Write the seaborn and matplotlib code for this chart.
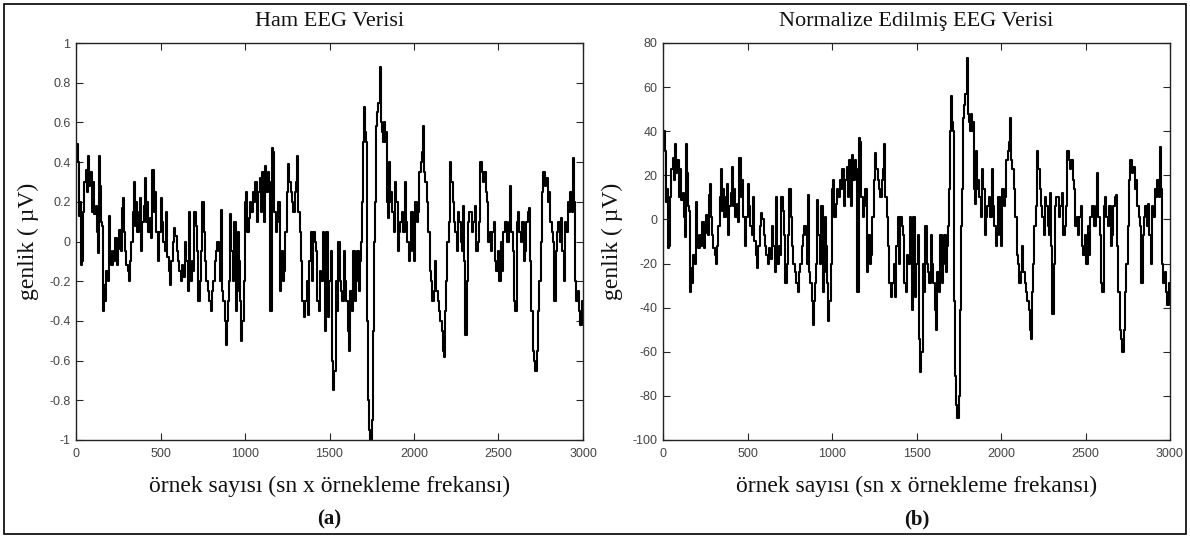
import matplotlib
matplotlib.use("Agg")
import matplotlib.pyplot as plt
import seaborn as sns
import pandas as pd
from matplotlib.patches import Rectangle

# ---- data ----
sample = [
    0, 8, 14, 20, 26, 32, 38, 44, 50, 58, 64, 70, 76, 84, 92, 100, 108, 116, 122, 128,
    134, 140, 148, 156, 162, 168, 174, 180, 188, 194, 200, 208, 216, 224, 232, 240, 248, 256, 264, 272,
    278, 284, 290, 298, 306, 312, 320, 328, 336, 344, 350, 356, 362, 370, 378, 384, 392, 400, 408, 414,
    420, 428, 436, 444, 452, 460, 468, 476, 484, 492, 500, 508, 516, 524, 532, 540, 548, 556, 564, 572,
    580, 588, 596, 604, 612, 620, 628, 636, 644, 652, 660, 668, 676, 684, 692, 700, 708, 716, 724, 732,
    740, 748, 756, 764, 772, 780, 788, 796, 804, 812, 820, 828, 836, 844, 852, 858, 864, 872, 880, 888,
    894, 900, 908, 914, 920, 928, 936, 944, 952, 958, 964, 970, 976, 984, 992,
    1000, 1008, 1014, 1022, 1030, 1038, 1046, 1054, 1062, 1070, 1078, 1086, 1094, 1102, 1110, 1118, 1126, 1134, 1142, 1150,
    1158, 1166, 1174, 1182, 1190, 1198, 1206, 1214, 1222, 1230, 1238, 1246, 1254, 1262, 1270, 1278, 1286, 1294, 1302, 1308,
    1316, 1324, 1332, 1340, 1348, 1356, 1364, 1372, 1380, 1388, 1396, 1404, 1412, 1420, 1428, 1436, 1444, 1452, 1460, 1466,
    1474, 1482, 1490, 1498, 1506, 1512, 1520, 1528, 1536, 1544, 1552, 1560, 1568, 1576, 1584, 1592, 1600, 1608, 1616, 1624,
    1632, 1640, 1648, 1656, 1664, 1672, 1680, 1688, 1694, 1700, 1706, 1712, 1718, 1724, 1730, 1736, 1742, 1750, 1756, 1762,
    1768, 1774, 1780, 1788, 1796, 1802, 1808, 1814, 1820, 1826, 1832, 1838, 1844, 1850, 1856, 1864, 1872, 1880, 1888, 1896,
    1904, 1912, 1920, 1928, 1936, 1944, 1952, 1960, 1968, 1976, 1984, 1992,
    2000, 2008, 2016, 2024, 2032, 2040, 2048, 2054, 2060, 2068, 2076, 2084, 2092, 2100, 2108, 2116, 2124, 2132, 2140, 2148,
    2156, 2164, 2170, 2176, 2182, 2190, 2198, 2206, 2212, 2220, 2228, 2236, 2244, 2252, 2260, 2268, 2276, 2284, 2292, 2298,
    2304, 2312, 2320, 2328, 2336, 2344, 2352, 2360, 2368, 2376, 2384, 2392, 2400, 2408, 2416, 2424, 2432, 2440, 2448, 2456,
    2464, 2472, 2480, 2488, 2496, 2504, 2512, 2520, 2528, 2536, 2544, 2552, 2560, 2568, 2576, 2584, 2592, 2600, 2608, 2616,
    2624, 2632, 2640, 2648, 2656, 2664, 2672, 2680, 2688, 2694, 2702, 2710, 2718, 2726, 2734, 2742, 2750, 2758, 2766, 2774,
    2782, 2790, 2798, 2806, 2814, 2822, 2830, 2838, 2846, 2854, 2862, 2870, 2878, 2886, 2894, 2902, 2910, 2918, 2926, 2934,
    2940, 2946, 2952, 2960, 2968, 2976, 2984, 2992, 3000,
]

raw_eeg = [
    0.45, 0.49, 0.40, 0.13, 0.20, -0.12, -0.10, 0.15, 0.30, 0.36, 0.25, 0.43, 0.28, 0.35, 0.15, 0.30, 0.14, 0.18, 0.05, -0.06,
    0.43, 0.28, 0.10, 0.08, -0.35, -0.22, -0.30, -0.15, -0.20, 0.13, -0.05, -0.12, -0.05, -0.10, 0.02, -0.12, -0.04, 0.06, -0.05, 0.17,
    0.22, 0.05, -0.05, -0.12, -0.15, -0.20, -0.10, 0.00, 0.15, 0.30, 0.08, 0.20, 0.05, 0.15, 0.22, -0.05, 0.10, 0.18, 0.32, 0.10,
    0.20, 0.05, 0.12, 0.02, 0.36, 0.15, 0.25, 0.05, -0.10, 0.05, 0.22, 0.10, 0.00, -0.05, 0.15, -0.08, -0.15, -0.22, -0.10, 0.00,
    0.07, 0.03, -0.05, -0.10, -0.15, -0.20, -0.12, -0.18, 0.00, -0.10, -0.25, 0.15, -0.20, -0.10, -0.15, 0.15, 0.08, -0.05, -0.30, -0.20,
    -0.05, 0.20, 0.05, -0.10, -0.20, -0.25, -0.30, -0.35, -0.25, -0.20, -0.10, -0.05, 0.00, -0.05, -0.20, 0.16, -0.25, -0.30, -0.40, -0.52,
    -0.40, -0.30, -0.20, 0.14, -0.05, -0.20, 0.10, -0.35, -0.25, 0.05, -0.10, -0.30, -0.50, -0.40, -0.20,
    0.20, 0.25, 0.05, 0.12, 0.20, 0.15, 0.25, 0.20, 0.30, 0.10, 0.25, 0.32, 0.15, 0.35, 0.10, 0.38, 0.25, 0.35, 0.30, -0.35,
    0.47, 0.45, 0.15, 0.05, 0.10, 0.20, -0.25, -0.05, -0.20, -0.15, 0.05, 0.25, 0.39, 0.30, 0.25, 0.20, 0.15, 0.25, 0.30, 0.43,
    0.15, 0.05, -0.10, -0.30, -0.38, -0.30, -0.20, -0.37, -0.10, 0.05, -0.20, 0.05, 0.00, -0.05, -0.30, -0.35, -0.15, -0.20, 0.05, -0.05,
    -0.45, 0.05, -0.38, -0.20, -0.05, -0.60, -0.75, -0.65, -0.20, -0.35, 0.00, -0.20, -0.25, -0.30, -0.05, -0.20, -0.30, -0.45, -0.55, -0.25,
    -0.35, -0.05, -0.30, -0.20, -0.05, -0.25, -0.10, 0.00, 0.20, 0.50, 0.68, 0.55, 0.50, -0.40, -0.80, -0.95, -1.03, -0.90, -0.45, 0.00,
    0.20, 0.58, 0.65, 0.70, 0.88, 0.60, 0.55, 0.50, 0.60, 0.50, 0.55, 0.20, 0.12, 0.40, 0.20, 0.25, 0.15, 0.05, 0.30, 0.20,
    -0.05, 0.05, 0.10, 0.15, 0.05, 0.30, 0.10, 0.00, -0.10, -0.05, 0.15, -0.05,
    -0.10, 0.20, 0.10, 0.15, 0.35, 0.40, 0.45, 0.58, 0.35, 0.30, 0.20, 0.05, -0.15, -0.20, -0.30, -0.25, -0.10, -0.25, -0.30, -0.35,
    -0.40, -0.45, -0.55, -0.58, -0.35, -0.20, 0.00, 0.10, 0.40, 0.30, 0.20, 0.10, 0.05, -0.05, 0.15, 0.10, 0.00, -0.05, 0.18, -0.10,
    -0.47, -0.20, 0.10, 0.15, 0.15, 0.05, 0.10, 0.18, -0.05, 0.00, 0.10, 0.40, 0.35, 0.30, 0.35, 0.25, 0.20, 0.00, 0.05, -0.05,
    0.05, 0.10, -0.10, -0.15, -0.05, -0.20, 0.00, -0.15, 0.05, 0.10, 0.10, 0.00, 0.10, 0.28, 0.05, -0.05, -0.30, -0.35, 0.10, 0.15,
    0.05, 0.00, 0.10, -0.10, -0.05, 0.10, 0.15, 0.17, -0.10, -0.35, -0.55, -0.60, -0.65, -0.55, -0.35, -0.20, 0.00, 0.25, 0.35, 0.28,
    0.32, 0.20, 0.25, 0.10, 0.05, 0.00, -0.30, -0.05, 0.05, 0.10, 0.00, 0.12, -0.05, -0.20, 0.10, 0.05, 0.20, 0.15, 0.25, 0.15,
    0.42, 0.20, -0.20, -0.30, -0.25, -0.35, -0.42, -0.30, -0.35,
]

norm_eeg = [
    35, 40, 31, 8, 14, -13, -12, 10, 23, 28, 18, 34, 21, 27, 10, 23, 9, 12, 1, -8,
    34, 21, 6, 4, -33, -22, -29, -16, -20, 8, -7, -13, -7, -12, -1, -13, -6, 2, -7, 11,
    16, 1, -7, -13, -16, -20, -12, -3, 10, 23, 4, 14, 1, 10, 16, -7, 6, 12, 24, 6,
    14, 1, 7, -1, 28, 10, 18, 1, -12, 1, 16, 6, -3, -7, 10, -10, -16, -22, -12, -3,
    3, 0, -7, -12, -16, -20, -13, -18, -3, -12, -24, 10, -20, -12, -16, 10, 4, -7, -29, -20,
    -7, 14, 1, -12, -20, -24, -29, -33, -24, -20, -12, -7, -3, -7, -20, 11, -24, -29, -37, -48,
    -37, -29, -20, 9, -7, -20, 6, -33, -24, 1, -12, -29, -46, -37, -20,
    14, 18, 1, 7, 14, 10, 18, 14, 23, 6, 18, 24, 10, 27, 6, 29, 18, 27, 23, -33,
    37, 35, 10, 1, 6, 14, -24, -7, -20, -16, 1, 18, 30, 23, 18, 14, 10, 18, 23, 34,
    10, 1, -12, -29, -35, -29, -20, -35, -12, 1, -20, 1, -3, -7, -29, -33, -16, -20, 1, -7,
    -41, 1, -35, -20, -7, -54, -69, -60, -20, -33, -3, -20, -24, -29, -7, -20, -29, -41, -50, -24,
    -33, -7, -29, -20, -7, -24, -12, -3, 14, 40, 56, 44, 40, -37, -71, -84, -90, -80, -41, -3,
    14, 46, 52, 57, 73, 48, 44, 40, 48, 40, 44, 14, 7, 31, 14, 18, 10, 1, 23, 14,
    -7, 1, 6, 10, 1, 23, 6, -3, -12, -7, 10, -7,
    -12, 14, 6, 10, 27, 31, 35, 46, 27, 23, 14, 1, -16, -20, -29, -24, -12, -24, -29, -33,
    -37, -41, -50, -54, -33, -20, -3, 6, 31, 23, 14, 6, 1, -7, 10, 6, -3, -7, 12, -12,
    -43, -20, 6, 10, 10, 1, 6, 12, -7, -3, 6, 31, 27, 23, 27, 18, 14, -3, 1, -7,
    1, 6, -12, -16, -7, -20, -3, -16, 1, 6, 6, -3, 6, 21, 1, -7, -29, -33, 6, 10,
    1, -3, 6, -12, -7, 6, 10, 11, -12, -33, -50, -54, -60, -50, -33, -20, -3, 18, 27, 21,
    24, 14, 18, 6, 1, -3, -29, -7, 1, 6, -3, 7, -7, -20, 6, 1, 14, 10, 18, 10,
    33, 14, -20, -29, -24, -33, -39, -29, -33,
]

titles = ["Ham EEG Verisi", "Normalize Edilmiş EEG Verisi"]
panel_tags = ["(a)", "(b)"]
xlabel_text = "örnek sayısı (sn x örnekleme frekansı)"
ylabel_text = "genlik ( µV)"
x_ticks = [0, 500, 1000, 1500, 2000, 2500, 3000]
raw_yticks = [-1, -0.8, -0.6, -0.4, -0.2, 0, 0.2, 0.4, 0.6, 0.8, 1]
norm_yticks = [-100, -80, -60, -40, -20, 0, 20, 40, 60, 80]

df = pd.DataFrame({"sample": sample, "raw": raw_eeg, "norm": norm_eeg})

sns.set_style("white")
plt.rcParams["font.family"] = ["Liberation Serif", "DejaVu Serif"]

fig = plt.figure(figsize=(11.9, 5.38), dpi=100)

tick_font = dict(family=["Liberation Sans Narrow", "Liberation Sans", "DejaVu Sans"], size=9, color="#444444")

panels = [
    dict(left=76, col="raw", ylim=(-1, 1), yticks=raw_yticks,
         ylabels=["-1", "-0.8", "-0.6", "-0.4", "-0.2", "0", "0.2", "0.4", "0.6", "0.8", "1"]),
    dict(left=663, col="norm", ylim=(-100, 80), yticks=norm_yticks,
         ylabels=[str(v) for v in norm_yticks]),
]

W, H = 1190.0, 538.0
for i, p in enumerate(panels):
    ax = fig.add_axes([p["left"] / W, 1 - 440 / H, 507 / W, 397 / H])
    sns.lineplot(data=df, x="sample", y=p["col"], ax=ax, color="black",
                 linewidth=1.5, drawstyle="steps-post", estimator=None)
    ax.set_xlim(0, 3000)
    ax.set_ylim(*p["ylim"])
    ax.set_xticks(x_ticks)
    ax.set_xticklabels([str(v) for v in x_ticks], fontdict=tick_font)
    ax.set_yticks(p["yticks"])
    ax.set_yticklabels(p["ylabels"], fontdict=tick_font)
    ax.tick_params(direction="in", length=5, width=0.8, top=True, right=True,
                   bottom=True, left=True, pad=4)
    ax.tick_params(axis="x", pad=6)
    for s in ax.spines.values():
        s.set_visible(True)
        s.set_color("#222222")
        s.set_linewidth(1.0)
    ax.set_title(titles[i], fontsize=16, pad=12, color="#111111")
    ax.set_xlabel(xlabel_text, fontsize=17, labelpad=11, color="#111111")
    ax.set_ylabel(ylabel_text, fontsize=17, labelpad=7, color="#111111")
    ax.text(0.5, -0.2, panel_tags[i], transform=ax.transAxes, ha="center", va="center",
            fontsize=15, fontweight="bold", color="#111111")

fig.patches.append(Rectangle((4 / W, 4 / H), 1 - 8 / W, 1 - 8 / H, transform=fig.transFigure,
                             fill=False, edgecolor="black", linewidth=1.2))

fig.savefig("out.png", dpi=100)
